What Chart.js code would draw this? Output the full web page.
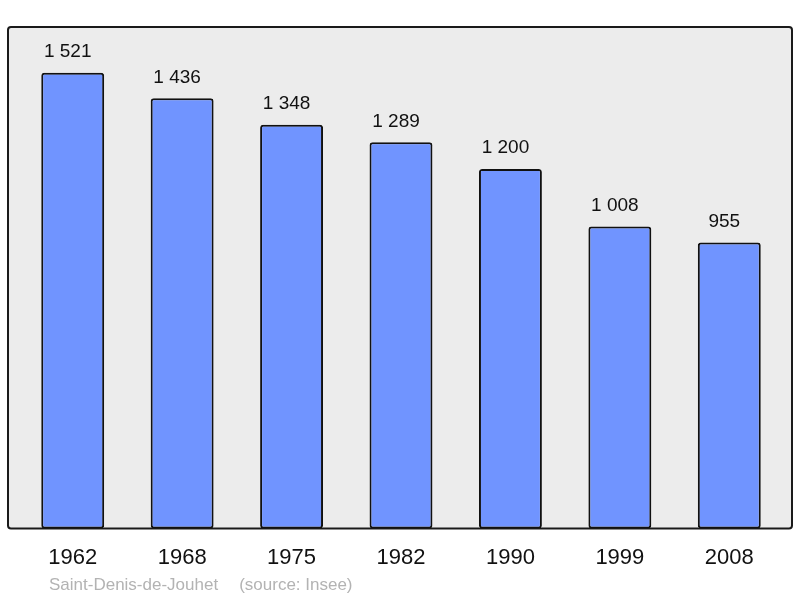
<!DOCTYPE html>
<html>
<head>
<meta charset="utf-8">
<script src="https://cdn.jsdelivr.net/npm/chart.js@4/dist/chart.umd.min.js"></script>
<style>
  html, body { margin: 0; padding: 0; background: #fff; }
  #wrap { width: 800px; height: 598px; }
</style>
</head>
<body>
<div id="wrap"><canvas id="chart"></canvas></div>
<script>
const years = ['1962', '1968', '1975', '1982', '1990', '1999', '2008']
const population = [1521, 1436, 1348, 1289, 1200, 1008, 955]
const placeName = 'Saint-Denis-de-Jouhet'
const sourceName = '(source: Insee)'

const fontFamily = '"Liberation Sans", Arial, sans-serif'

function formatPop(n) {
  return String(n).replace(/\B(?=(\d{3})+(?!\d))/g, ' ')
}

// grey panel with dark frame behind the bars, plus source line under the axis
const framePlugin = {
  id: 'frame',
  beforeDraw(chart) {
    const { ctx, chartArea } = chart
    const left = chartArea.left - 10
    const right = chartArea.right + 8
    const top = chartArea.top
    const bottom = chartArea.bottom
    ctx.save()
    ctx.beginPath()
    ctx.roundRect(left, top, right - left, bottom - top, 3)
    ctx.fillStyle = '#ececec'
    ctx.fill()
    ctx.lineWidth = 2
    ctx.strokeStyle = '#1a1a1a'
    ctx.stroke()
    ctx.restore()
  },
  afterDraw(chart) {
    const { ctx, chartArea } = chart
    ctx.save()
    ctx.font = '17px ' + fontFamily
    ctx.fillStyle = '#b3b3b3'
    ctx.textAlign = 'left'
    ctx.textBaseline = 'middle'
    const x = chartArea.left + 31
    const y = chartArea.bottom + 57
    ctx.fillText(placeName, x, y)
    const w = ctx.measureText(placeName).width
    ctx.fillText(sourceName, x + w + 21, y)
    ctx.restore()
  }
}

const valueLabelPlugin = {
  id: 'valueLabels',
  afterDatasetsDraw(chart) {
    const { ctx } = chart
    const meta = chart.getDatasetMeta(0)
    ctx.save()
    ctx.font = '19px ' + fontFamily
    ctx.fillStyle = '#111'
    ctx.textAlign = 'center'
    ctx.textBaseline = 'middle'
    meta.data.forEach((bar, i) => {
      ctx.fillText(formatPop(population[i]), bar.x - 5, bar.y - 21)
    })
    ctx.restore()
  }
}

new Chart(document.getElementById('chart'), {
  type: 'bar',
  data: {
    labels: years,
    datasets: [{
      data: population,
      backgroundColor: '#7094ff',
      borderColor: '#111',
      borderWidth: 2,
      borderRadius: 3,
      borderSkipped: false,
      barPercentage: 0.575,
      categoryPercentage: 1,
    }]
  },
  options: {
    responsive: true,
    maintainAspectRatio: false,
    animation: false,
    devicePixelRatio: 1,
    layout: {
      padding: { left: 18, right: 16, top: 27, bottom: 11 }
    },
    scales: {
      x: {
        grid: { display: false, drawTicks: false },
        border: { display: false },
        ticks: {
          color: '#111',
          font: { family: fontFamily, size: 22 },
          padding: 16,
          maxRotation: 0,
        }
      },
      y: {
        display: false,
        min: 0,
        max: 1674,
      }
    },
    plugins: {
      legend: { display: false },
      tooltip: { enabled: false },
    }
  },
  plugins: [framePlugin, valueLabelPlugin]
})
</script>
</body>
</html>
